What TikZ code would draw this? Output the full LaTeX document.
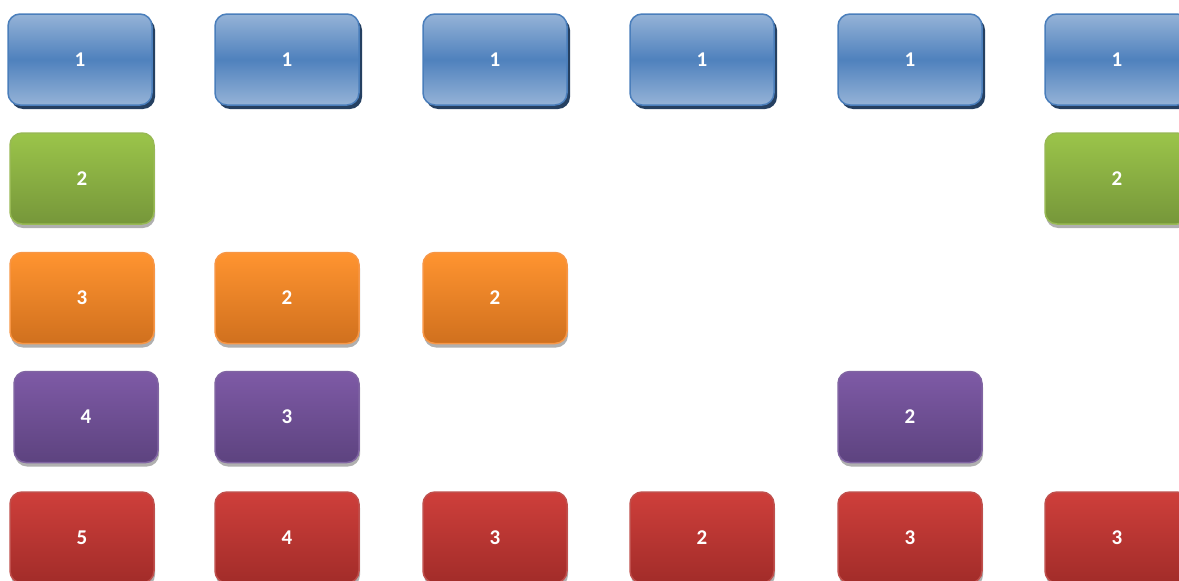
\documentclass[tikz,border=0pt]{standalone}
\usepackage{fontspec}
\setmainfont{Carlito}
\usetikzlibrary{shadows}
\definecolor{cblue}{HTML}{4F81BD}
\definecolor{cbluelight}{HTML}{95B3D7}
\definecolor{cblueline}{HTML}{4A7EBB}
\definecolor{cblueshadow}{HTML}{254061}
\definecolor{cgreentop}{HTML}{9BC44A}
\definecolor{cgreenbot}{HTML}{76973A}
\definecolor{cgreenline}{HTML}{98B954}
\definecolor{corangetop}{HTML}{FF9430}
\definecolor{corangebot}{HTML}{D0701E}
\definecolor{corangeline}{HTML}{F79646}
\definecolor{cpurpletop}{HTML}{7E5AA6}
\definecolor{cpurplebot}{HTML}{5D437F}
\definecolor{cpurpleline}{HTML}{8064A2}
\definecolor{credtop}{HTML}{CE3F3B}
\definecolor{credbot}{HTML}{A22C29}
\definecolor{credline}{HTML}{C0504D}
\definecolor{cgrey}{HTML}{9C9C9C}
\tikzset{
  every picture/.style={x=1pt, y=-1pt},
  tile/.style={rounded corners=12pt, minimum width=144pt, minimum height=91pt, inner sep=0pt,
    text=white, line width=1.5pt, font=\fontsize{21}{24}\selectfont\bfseries},
  bluetile/.style={tile, draw=cblueline, top color=cbluelight, bottom color=cbluelight, middle color=cblue,
    drop shadow={shadow xshift=3pt, shadow yshift=-4pt, fill=cblueshadow, opacity=1}},
  flattile/.style n args={3}{tile, draw=#3, top color=#1, bottom color=#2,
    drop shadow={shadow xshift=1pt, shadow yshift=-4pt, fill=cgrey, opacity=0.8}},
  greentile/.style={flattile={cgreentop}{cgreenbot}{cgreenline}},
  orangetile/.style={flattile={corangetop}{corangebot}{corangeline}},
  purpletile/.style={flattile={cpurpletop}{cpurplebot}{cpurpleline}},
  redtile/.style={flattile={credtop}{credbot}{credline}},
}
\begin{document}
\begin{tikzpicture}
  \clip (0,0) rectangle (1179,581);
  % row 1
  \node[bluetile] (a1) at (80, 59.5) {1};
  \foreach \x/\n in {287/2, 495/3, 702/4, 910/5, 1117/6}
    \node[bluetile] (a\n) at (\x, 59.5) {1};
  % row 2
  \node[greentile] (b1) at (82, 178.5) {2};
  \node[greentile] (b6) at (1117, 178.5) {2};
  % row 3
  \node[orangetile] (c1) at (82, 298) {3};
  \node[orangetile] (c2) at (287, 298) {2};
  \node[orangetile] (c3) at (495, 298) {2};
  % row 4
  \node[purpletile] (d1) at (86, 417) {4};
  \node[purpletile] (d2) at (287, 417) {3};
  \node[purpletile] (d5) at (910, 417) {2};
  % row 5
  \node[redtile] (e1) at (82, 537.5) {5};
  \node[redtile] (e2) at (287, 537.5) {4};
  \node[redtile] (e3) at (495, 537.5) {3};
  \node[redtile] (e4) at (702, 537.5) {2};
  \node[redtile] (e5) at (910, 537.5) {3};
  \node[redtile] (e6) at (1117, 537.5) {3};
\end{tikzpicture}
\end{document}
